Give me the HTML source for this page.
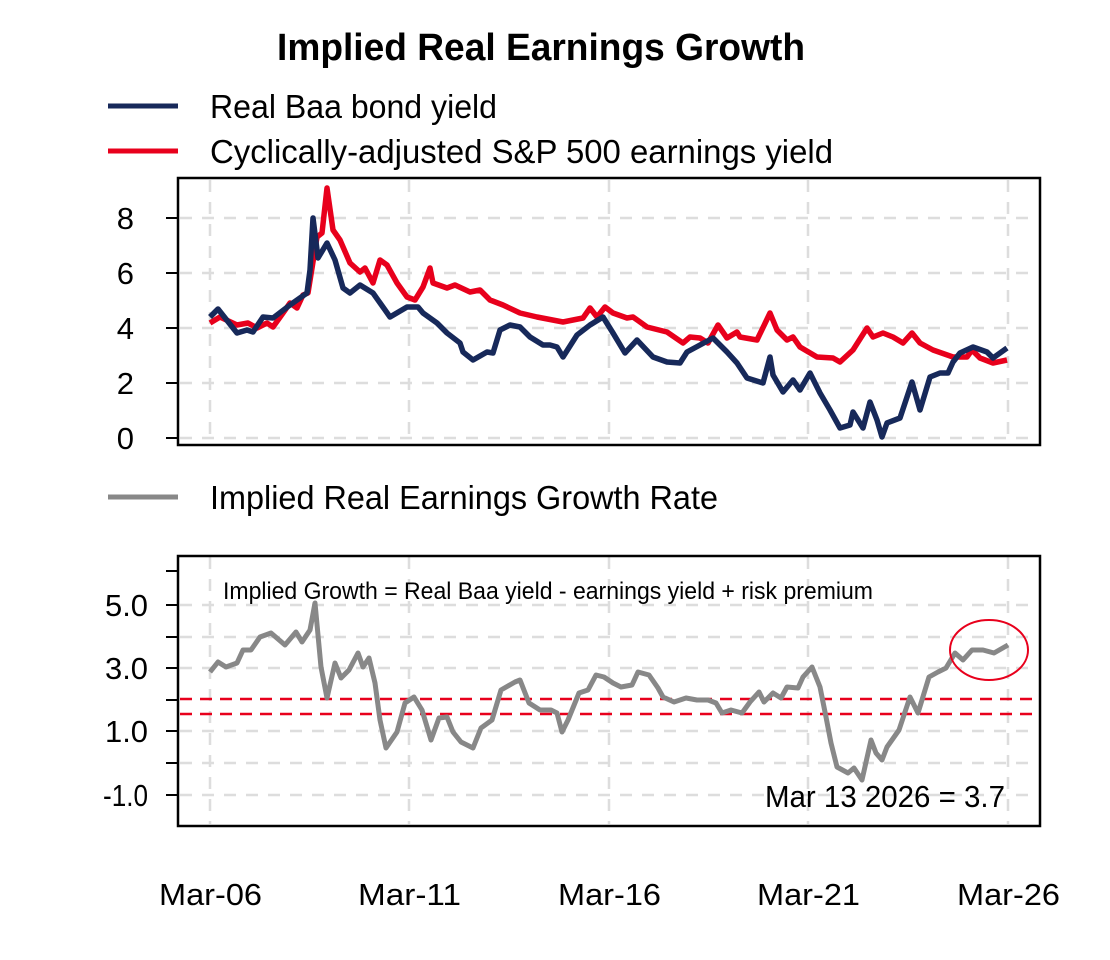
<!DOCTYPE html>
<html><head><meta charset="utf-8"><style>
body{margin:0;background:#fff}
svg{display:block}
text{font-family:"Liberation Sans",sans-serif;fill:#000}
</style></head><body>
<svg width="1110" height="960" viewBox="0 0 1110 960">
<text x="277" y="60" font-size="38" font-weight="bold" textLength="528" lengthAdjust="spacingAndGlyphs">Implied Real Earnings Growth</text>
<line x1="108" y1="106" x2="178" y2="106" stroke="#17295a" stroke-width="5"/>
<text x="210" y="118" font-size="33" textLength="287" lengthAdjust="spacingAndGlyphs">Real Baa bond yield</text>
<line x1="108" y1="151" x2="178" y2="151" stroke="#e8001c" stroke-width="5"/>
<text x="210" y="163" font-size="33" textLength="623" lengthAdjust="spacingAndGlyphs">Cyclically-adjusted S&amp;P 500 earnings yield</text>
<line x1="108" y1="497" x2="178" y2="497" stroke="#888" stroke-width="5"/>
<text x="210" y="509" font-size="33" textLength="508" lengthAdjust="spacingAndGlyphs">Implied Real Earnings Growth Rate</text>

<g stroke="#ddd" stroke-width="2.5" stroke-dasharray="12,10" fill="none">
<path d="M210 180V444M409 180V444M609 180V444M808 180V444M1008 180V444"/>
<path d="M180 218H1038M180 273H1038M180 328H1038M180 383H1038M180 438H1038"/>
<path d="M210 557V824M409 557V824M609 557V824M808 557V824M1008 557V824"/>
<path d="M180 605H1038M180 637H1038M180 668H1038M180 731H1038M180 763H1038M180 795H1038"/>
</g>
<rect x="178" y="178" width="862" height="267" fill="none" stroke="#000" stroke-width="2.5"/>
<rect x="178" y="556" width="862" height="270" fill="none" stroke="#000" stroke-width="2.5"/>
<g stroke="#000" stroke-width="2">
<path d="M166 218H178M166 273H178M166 328H178M166 383H178M166 438H178"/>
<path d="M166 571H178M166 605H178M166 637H178M166 668H178M166 700H178M166 731H178M166 763H178M166 795H178"/>
</g>
<g font-size="31" text-anchor="end">
<text x="134" y="229">8</text><text x="134" y="284">6</text><text x="134" y="339">4</text><text x="134" y="394">2</text><text x="134" y="449">0</text>
<text x="148" y="616" textLength="43" lengthAdjust="spacingAndGlyphs">5.0</text><text x="148" y="679" textLength="43" lengthAdjust="spacingAndGlyphs">3.0</text><text x="148" y="742" textLength="43" lengthAdjust="spacingAndGlyphs">1.0</text><text x="148" y="806" textLength="45" lengthAdjust="spacingAndGlyphs">-1.0</text>
</g>
<g font-size="31">
<text x="159" y="905" textLength="103" lengthAdjust="spacingAndGlyphs">Mar-06</text><text x="358" y="905" textLength="103" lengthAdjust="spacingAndGlyphs">Mar-11</text><text x="558" y="905" textLength="103" lengthAdjust="spacingAndGlyphs">Mar-16</text><text x="757" y="905" textLength="103" lengthAdjust="spacingAndGlyphs">Mar-21</text><text x="957" y="905" textLength="103" lengthAdjust="spacingAndGlyphs">Mar-26</text>
</g>

<polyline fill="none" stroke="#e8001c" stroke-width="5.5" stroke-linejoin="round" points="210,323 220,317 237,325 248,323 257,328 267,323 273,327 283,313 290,303 297,308 303,295 308,293 317,237 322,233 327,188 333,230 340,240 350,263 360,272 365,268 373,283 380,260 387,265 397,283 407,297 415,300 423,287 430,268 433,283 447,288 455,285 470,292 480,290 490,300 503,305 520,313 537,317 563,322 583,318 590,308 597,317 605,307 613,313 627,318 633,317 647,327 667,332 683,343 690,337 700,338 708,343 718,325 727,338 737,332 740,337 757,340 770,313 777,330 787,340 793,337 800,347 817,357 833,358 840,362 853,350 867,328 873,337 883,333 893,337 903,343 912,333 920,343 933,350 953,357 967,357 972,350 980,358 993,363 1007,360"/>
<polyline fill="none" stroke="#17295a" stroke-width="5.5" stroke-linejoin="round" points="210,317 218,309 237,333 247,330 253,332 263,317 273,318 290,305 307,293 310,270 313,218 318,258 327,243 335,260 343,288 350,293 360,285 373,293 390,317 407,307 418,307 423,313 437,323 447,333 460,343 463,352 473,360 487,352 493,353 500,330 510,325 520,327 530,337 543,345 550,345 557,347 563,357 577,335 590,325 603,317 613,333 625,353 637,340 653,357 667,362 680,363 687,352 700,345 713,338 727,352 737,363 747,378 763,383 770,357 773,375 783,392 793,380 800,390 810,373 820,393 830,410 840,428 850,425 853,412 863,428 870,402 877,420 882,437 887,423 900,418 912,382 920,410 930,377 940,373 948,373 953,362 960,353 973,347 987,352 993,358 1007,348"/>

<g stroke="#e8001c" stroke-width="2.5" stroke-dasharray="12,8"><path d="M180 699H1038M180 714H1038"/></g>
<polyline fill="none" stroke="#888" stroke-width="5" stroke-linejoin="round" points="210,672 218,662 226,667 237,663 243,650 251,650 260,637 271,633 285,645 296,632 302,642 310,630 315,603 321,667 327,698 335,663 341,678 349,670 358,653 363,667 369,658 375,683 380,720 386,748 397,732 405,703 414,697 422,710 431,740 439,718 447,717 453,732 461,742 473,748 481,728 492,720 501,690 515,682 520,680 529,703 540,710 551,710 557,713 562,732 568,720 579,693 588,690 596,675 604,677 613,683 621,687 632,685 638,672 649,675 658,688 663,697 674,702 686,698 697,700 708,700 716,703 722,713 731,710 742,713 750,702 759,692 764,702 773,693 781,698 787,687 798,688 803,677 812,667 820,687 826,717 831,743 837,767 848,773 854,768 862,780 871,740 876,753 882,760 887,747 899,730 910,697 918,713 929,677 938,672 946,668 955,653 963,660 972,650 983,650 994,653 1008,645"/>
<ellipse cx="989" cy="650" rx="39" ry="30" fill="none" stroke="#e8001c" stroke-width="2"/>
<text x="223" y="599" font-size="24" textLength="650" lengthAdjust="spacingAndGlyphs">Implied Growth = Real Baa yield - earnings yield + risk premium</text>
<text x="765" y="807" font-size="31" textLength="240" lengthAdjust="spacingAndGlyphs">Mar 13 2026 = 3.7</text>
</svg>
</body></html>
